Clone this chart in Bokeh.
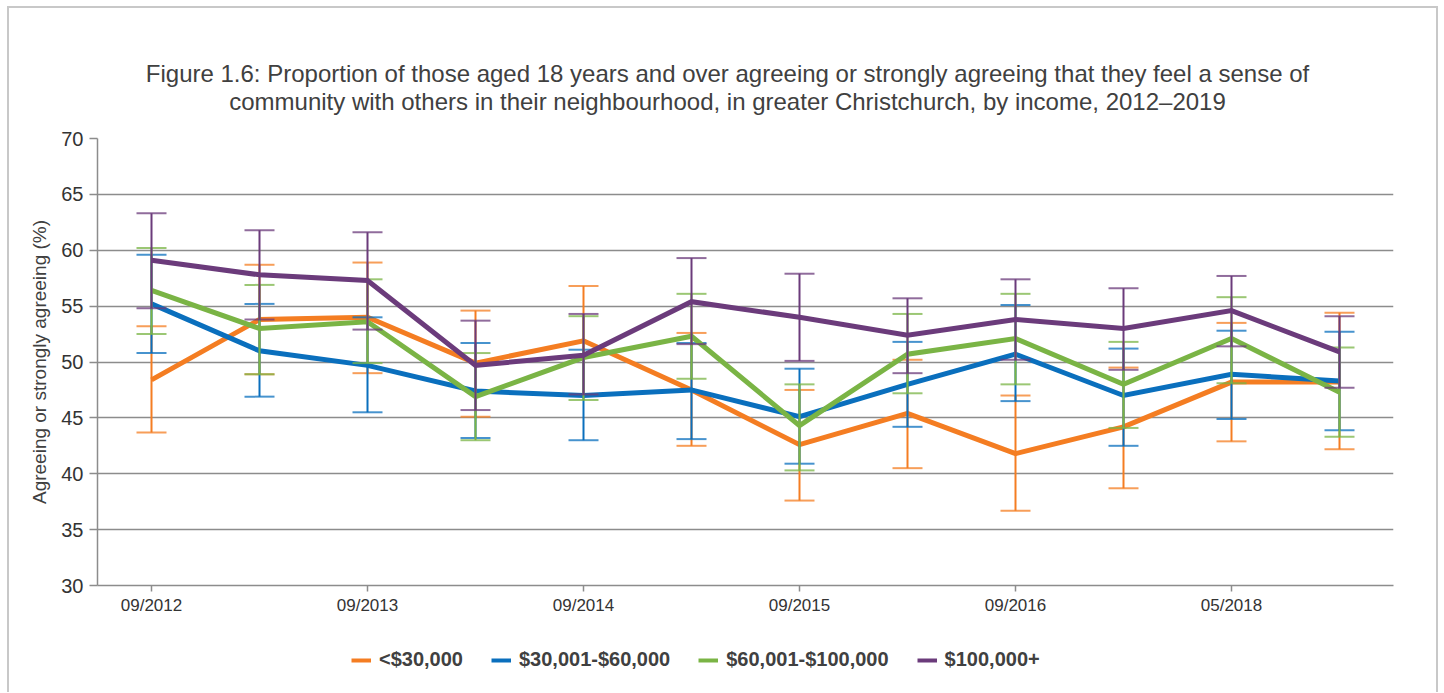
from bokeh.plotting import figure
from bokeh.layouts import column
from bokeh.models import FixedTicker, Legend, LegendItem, Label, Range1d
from bokeh.embed import file_html
from bokeh.resources import INLINE

# ---- data ----
survey_dates = ["09/2012", "04/2013", "09/2013", "04/2014", "09/2014", "04/2015",
                "09/2015", "04/2016", "09/2016", "09/2017", "05/2018", "05/2019"]
labelled_idx = [0, 2, 4, 6, 8, 10]
y_ticks = [30, 35, 40, 45, 50, 55, 60, 65, 70]

series_names = ["<$30,000", "$30,001-$60,000", "$60,001-$100,000", "$100,000+"]
series_colors = ["#F47D22", "#0A6FBD", "#7AB445", "#6B3B7B"]

low_income = [48.4, 53.8, 54.0, 49.9, 51.9, 47.5, 42.6, 45.4, 41.8, 44.2, 48.2, 48.2]
low_income_hi = [53.2, 58.7, 58.9, 54.6, 56.8, 52.6, 47.5, 50.2, 47.0, 49.5, 53.5, 54.4]
low_income_lo = [43.7, 48.9, 49.0, 45.1, 47.1, 42.5, 37.6, 40.5, 36.7, 38.7, 42.9, 42.2]

mid_income = [55.2, 51.0, 49.7, 47.4, 47.0, 47.5, 45.1, 48.0, 50.7, 47.0, 48.9, 48.3]
mid_income_hi = [59.6, 55.2, 54.0, 51.7, 51.1, 51.7, 49.4, 51.8, 55.1, 51.2, 52.8, 52.7]
mid_income_lo = [50.8, 46.9, 45.5, 43.2, 43.0, 43.1, 40.9, 44.2, 46.5, 42.5, 44.9, 43.9]

upper_income = [56.4, 53.0, 53.6, 46.9, 50.4, 52.3, 44.3, 50.7, 52.1, 48.0, 52.1, 47.3]
upper_income_hi = [60.2, 56.9, 57.4, 50.8, 54.1, 56.1, 48.0, 54.3, 56.1, 51.8, 55.8, 51.3]
upper_income_lo = [52.5, 48.9, 49.9, 43.0, 46.6, 48.5, 40.3, 47.2, 48.0, 44.1, 48.1, 43.3]

high_income = [59.1, 57.8, 57.3, 49.7, 50.6, 55.4, 54.0, 52.4, 53.8, 53.0, 54.6, 50.9]
high_income_hi = [63.3, 61.8, 61.6, 53.7, 54.3, 59.3, 57.9, 55.7, 57.4, 56.6, 57.7, 54.1]
high_income_lo = [54.8, 53.8, 52.9, 45.7, 47.1, 51.6, 50.1, 49.0, 50.2, 49.3, 51.4, 47.7]

values = [low_income, mid_income, upper_income, high_income]
highs = [low_income_hi, mid_income_hi, upper_income_hi, high_income_hi]
lows = [low_income_lo, mid_income_lo, upper_income_lo, high_income_lo]

title_lines = [
    "Figure 1.6: Proportion of those aged 18 years and over agreeing or "
    "strongly agreeing that they feel a sense of",
    "community with others in their neighbourhood, in greater Christchurch, "
    "by income, 2012\u20132019",
]
y_axis_title = "Agreeing or strongly agreeing (%)"

FONT = "Liberation Sans"
TEXT = "#404040"
GRID = "#8C8C8C"
TOTAL_W = 1427

x = list(range(len(survey_dates)))


def blank_panel(h):
    f = figure(width=TOTAL_W, height=h, output_backend="svg", toolbar_location=None,
               x_axis_type=None, y_axis_type=None, min_border=0,
               x_range=Range1d(0, 1), y_range=Range1d(0, 1))
    f.outline_line_color = None
    f.grid.grid_line_color = None
    f.background_fill_color = "white"
    f.border_fill_color = "white"
    return f


# ---- title panel (its frame is aligned with the chart frame) ----
ptitle = blank_panel(118)
for i, line in enumerate(title_lines):
    ptitle.add_layout(Label(x=630, y=53 - 28 * i, x_units="screen", y_units="screen",
                            text=line, text_align="center", text_baseline="middle",
                            text_font=FONT, text_font_size="24px", text_color=TEXT))

# ---- main chart ----
p = figure(frame_width=1296, frame_height=447, output_backend="svg", toolbar_location=None,
           x_range=Range1d(-0.5, len(survey_dates) - 0.5),
           y_range=Range1d(y_ticks[0], y_ticks[-1]),
           min_border_left=88, min_border_right=43,
           min_border_top=12, min_border_bottom=32)
p.outline_line_color = None
p.background_fill_color = "white"
p.border_fill_color = "white"

p.xgrid.grid_line_color = None
p.ygrid.grid_line_color = GRID
p.ygrid.grid_line_width = 1.5
p.ygrid.ticker = FixedTicker(ticks=y_ticks)

p.yaxis.ticker = FixedTicker(ticks=y_ticks)
p.yaxis.axis_line_color = GRID
p.yaxis.axis_line_width = 1.5
p.yaxis.major_tick_line_color = GRID
p.yaxis.major_tick_line_width = 1.5
p.yaxis.major_tick_out = 8
p.yaxis.major_tick_in = 0
p.yaxis.minor_tick_line_color = None
p.yaxis.major_label_text_font = FONT
p.yaxis.major_label_text_font_size = "20px"
p.yaxis.major_label_text_color = "#333333"
p.yaxis.major_label_standoff = 6
p.yaxis.axis_label = y_axis_title
p.yaxis.axis_label_text_font = FONT
p.yaxis.axis_label_text_font_size = "19px"
p.yaxis.axis_label_text_font_style = "normal"
p.yaxis.axis_label_text_color = TEXT
p.yaxis.axis_label_standoff = 8

p.xaxis.ticker = FixedTicker(ticks=labelled_idx)
p.xaxis.major_label_overrides = {i: survey_dates[i] for i in labelled_idx}
p.xaxis.axis_line_color = GRID
p.xaxis.axis_line_width = 1.5
p.xaxis.major_tick_line_color = GRID
p.xaxis.major_tick_line_width = 1.5
p.xaxis.major_tick_out = 6
p.xaxis.major_tick_in = 0
p.xaxis.minor_tick_line_color = None
p.xaxis.major_label_text_font = FONT
p.xaxis.major_label_text_font_size = "17px"
p.xaxis.major_label_text_color = "#333333"
p.xaxis.major_label_standoff = 4

for col, v, hi, lo in zip(series_colors, values, highs, lows):
    p.segment(x0=x, y0=lo, x1=x, y1=hi, line_color=col, line_width=2)
    p.scatter(x=x, y=hi, marker="dash", size=30, line_color=col, line_width=2, line_alpha=0.75)
    p.scatter(x=x, y=lo, marker="dash", size=30, line_color=col, line_width=2, line_alpha=0.75)
    p.line(x=x, y=v, line_color=col, line_width=5, line_join="miter")

# ---- legend panel (legend keys drawn off-range so only the legend shows) ----
plegend = blank_panel(75)
items = []
for name, col in zip(series_names, series_colors):
    r = plegend.line(x=[-10, -9], y=[-10, -9], line_color=col, line_width=4)
    items.append(LegendItem(label=name, renderers=[r]))
legend = Legend(items=items, orientation="horizontal", location=(254, 21),
                label_text_font=FONT, label_text_font_size="20px",
                label_text_font_style="bold", label_text_color=TEXT,
                glyph_width=20, glyph_height=20, label_standoff=8, spacing=28,
                border_line_color=None, background_fill_color=None,
                margin=0, padding=4)
plegend.add_layout(legend, "center")

layout = column(ptitle, p, plegend, spacing=0)
layout.styles = {"margin-left": "7px", "margin-top": "6px",
                 "border-top": "2px solid #C8C8C8", "border-left": "2px solid #C8C8C8",
                 "border-right": "2px solid #C8C8C8"}

open("out.html", "w").write(file_html(layout, INLINE))
